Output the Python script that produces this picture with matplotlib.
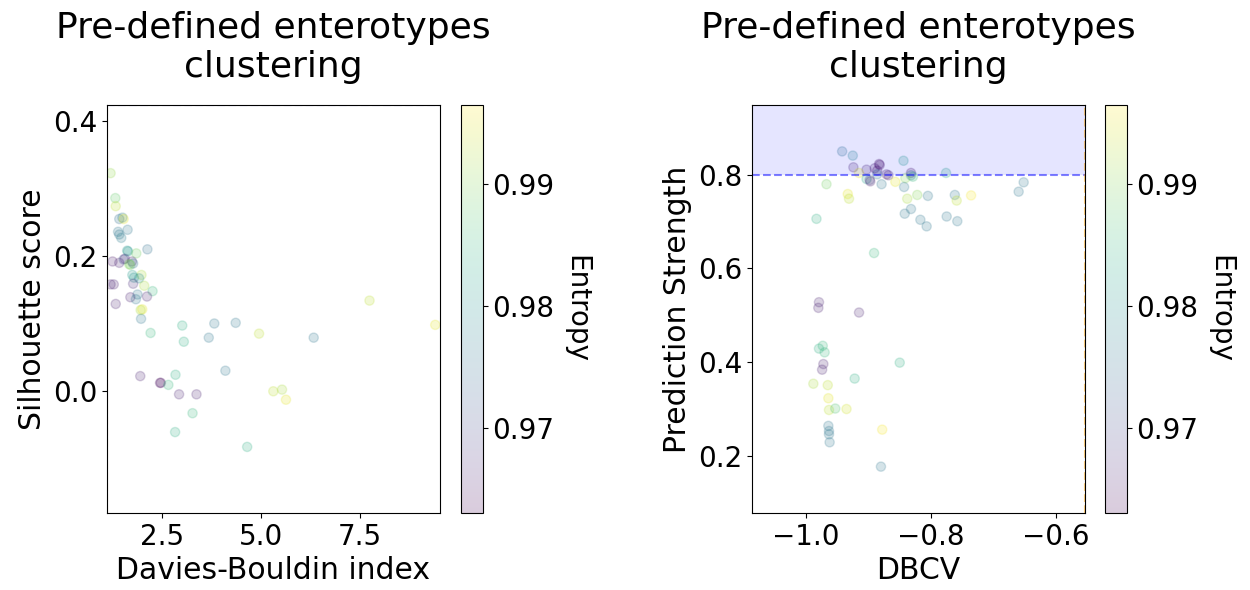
import numpy as np
import matplotlib
matplotlib.use("Agg")
import matplotlib.pyplot as plt

# ---- Left panel: Davies-Bouldin index vs Silhouette score ----
db_index = [1.20, 1.32, 1.33, 1.42, 1.50, 1.53, 1.39, 1.42, 1.47, 1.63,
            1.62, 1.64, 1.85, 2.13, 1.25, 1.42, 1.53, 1.56, 1.74, 1.70,
            1.77, 1.67, 1.75, 1.98, 1.92, 1.79, 1.77, 1.20, 1.28, 2.05,
            2.26, 1.88, 1.70, 1.84, 2.12, 1.33, 1.96, 2.00, 1.97, 2.21,
            7.74, 9.40, 3.01, 3.05, 3.82, 4.36, 3.68, 4.95, 6.33, 4.10,
            1.95, 2.45, 2.47, 2.66, 2.84, 2.93, 3.37, 3.27, 2.83, 4.65,
            5.31, 5.53, 5.63]
silhouette = [0.323, 0.286, 0.274, 0.255, 0.257, 0.255, 0.236, 0.232, 0.227, 0.239,
              0.208, 0.207, 0.204, 0.210, 0.192, 0.190, 0.195, 0.196, 0.192, 0.187,
              0.189, 0.188, 0.172, 0.172, 0.167, 0.168, 0.159, 0.158, 0.158, 0.156,
              0.148, 0.143, 0.139, 0.136, 0.140, 0.129, 0.120, 0.121, 0.107, 0.086,
              0.134, 0.098, 0.097, 0.073, 0.100, 0.101, 0.079, 0.085, 0.079, 0.030,
              0.022, 0.012, 0.012, 0.009, 0.024, -0.005, -0.005, -0.033, -0.061, -0.083,
              -0.0005, 0.002, -0.013]
entropy_left = [0.991, 0.988, 0.993, 0.975, 0.977, 0.995, 0.976, 0.976, 0.977, 0.976,
                0.980, 0.981, 0.989, 0.975, 0.965, 0.966, 0.971, 0.967, 0.966, 0.989,
                0.975, 0.990, 0.981, 0.992, 0.979, 0.980, 0.967, 0.966, 0.966, 0.992,
                0.985, 0.976, 0.966, 0.976, 0.966, 0.966, 0.992, 0.995, 0.976, 0.985,
                0.993, 0.995, 0.984, 0.984, 0.976, 0.976, 0.976, 0.993, 0.976, 0.976,
                0.966, 0.964, 0.964, 0.985, 0.984, 0.966, 0.966, 0.985, 0.984, 0.984,
                0.993, 0.992, 0.995]

# ---- Right panel: DBCV vs Prediction Strength ----
dbcv = [-0.942, -0.925, -0.924, -0.903, -0.890, -0.883, -0.882, -0.886, -0.871, -0.868,
        -0.915, -0.903, -0.898, -0.897, -0.879, -0.886, -0.844, -0.832, -0.832, -0.829,
        -0.841, -0.857, -0.843, -0.967, -0.933, -0.931, -0.983, -0.838, -0.822, -0.805,
        -0.832, -0.842, -0.817, -0.807, -0.776, -0.762, -0.759, -0.736, -0.775, -0.758,
        -0.652, -0.660, -0.891, -0.979, -0.980, -0.915, -0.973, -0.979, -0.970, -0.850,
        -0.972, -0.974, -0.922, -0.988, -0.965, -0.964, -0.963, -0.953, -0.935, -0.878,
        -0.964, -0.963, -0.963, -0.962, -0.880]
pred_strength = [0.850, 0.841, 0.816, 0.811, 0.814, 0.823, 0.821, 0.809, 0.801, 0.799,
                 0.804, 0.791, 0.789, 0.786, 0.780, 0.801, 0.830, 0.804, 0.799, 0.796,
                 0.793, 0.785, 0.774, 0.780, 0.759, 0.749, 0.706, 0.749, 0.757, 0.755,
                 0.727, 0.717, 0.704, 0.690, 0.804, 0.757, 0.745, 0.756, 0.711, 0.701,
                 0.784, 0.764, 0.633, 0.528, 0.516, 0.506, 0.435, 0.429, 0.421, 0.399,
                 0.396, 0.384, 0.365, 0.354, 0.351, 0.323, 0.298, 0.301, 0.300, 0.256,
                 0.264, 0.253, 0.246, 0.229, 0.177]
entropy_right = [0.976, 0.979, 0.966, 0.966, 0.965, 0.964, 0.964, 0.964, 0.966, 0.966,
                 0.995, 0.982, 0.970, 0.966, 0.976, 0.976, 0.982, 0.964, 0.976, 0.985,
                 0.990, 0.995, 0.976, 0.989, 0.995, 0.993, 0.984, 0.992, 0.990, 0.976,
                 0.976, 0.976, 0.976, 0.976, 0.983, 0.976, 0.993, 0.996, 0.976, 0.976,
                 0.976, 0.976, 0.985, 0.966, 0.966, 0.966, 0.985, 0.984, 0.985, 0.984,
                 0.966, 0.966, 0.984, 0.992, 0.993, 0.995, 0.993, 0.987, 0.994, 0.996,
                 0.976, 0.976, 0.976, 0.976, 0.976]

title_text = "Pre-defined enterotypes\nclustering"
ps_threshold = 0.8

plt.rcParams['font.family'] = ['DejaVu Sans']
fig = plt.figure(figsize=(12.5, 5.9), dpi=100)

ax1 = fig.add_axes([0.0856, 0.1305, 0.2664, 0.6915])
cax1 = fig.add_axes([0.3688, 0.1305, 0.0172, 0.6915])
ax2 = fig.add_axes([0.6016, 0.1305, 0.2664, 0.6915])
cax2 = fig.add_axes([0.8840, 0.1305, 0.0172, 0.6915])

vmin, vmax = 0.963, 0.9965

sc1 = ax1.scatter(db_index, silhouette, c=entropy_left, cmap='viridis',
                  vmin=vmin, vmax=vmax, alpha=0.2, s=44)
ax1.set_xlim(1.11, 9.52)
ax1.set_ylim(-0.181, 0.424)
ax1.axhline(0.424, color='blue', ls='--', alpha=0.5)
ax1.axvline(1.11, color='orange', ls='--', alpha=0.5)
ax1.set_xlabel("Davies-Bouldin index", fontsize=21.5)
ax1.set_ylabel("Silhouette score", fontsize=21.5)
ax1.set_title(title_text, fontsize=26, pad=20)
ax1.set_xticks([2.5, 5.0, 7.5])
ax1.set_yticks([0.0, 0.2, 0.4])
ax1.tick_params(labelsize=20)
cb1 = fig.colorbar(sc1, cax=cax1)
cb1.set_ticks([0.97, 0.98, 0.99])
cb1.ax.tick_params(labelsize=20)
cb1.set_label("Entropy", rotation=270, fontsize=20, labelpad=26)

sc2 = ax2.scatter(dbcv, pred_strength, c=entropy_right, cmap='viridis',
                  vmin=vmin, vmax=vmax, alpha=0.2, s=44)
ax2.set_xlim(-1.086, -0.554)
ax2.set_ylim(0.078, 0.949)
ax2.axhspan(ps_threshold, 0.949, color='blue', alpha=0.1, lw=0)
ax2.axhline(ps_threshold, color='blue', ls='--', alpha=0.5)
ax2.axvline(-0.554, color='orange', ls='--', alpha=0.5)
ax2.set_xlabel("DBCV", fontsize=21.5)
ax2.set_ylabel("Prediction Strength", fontsize=21.5)
ax2.set_title(title_text, fontsize=26, pad=20)
ax2.set_xticks([-1.0, -0.8, -0.6])
ax2.set_yticks([0.2, 0.4, 0.6, 0.8])
ax2.tick_params(labelsize=20)
cb2 = fig.colorbar(sc2, cax=cax2)
cb2.set_ticks([0.97, 0.98, 0.99])
cb2.ax.tick_params(labelsize=20)
cb2.set_label("Entropy", rotation=270, fontsize=20, labelpad=26)

fig.savefig("out.png", dpi=100)
